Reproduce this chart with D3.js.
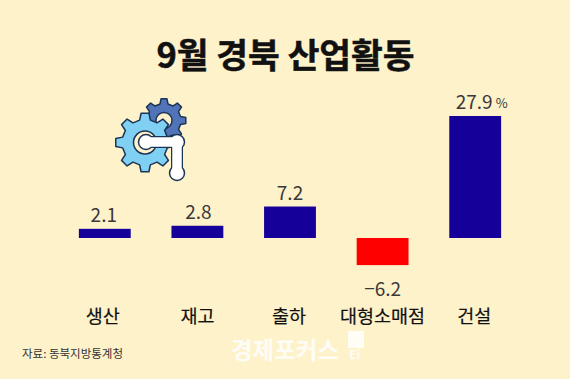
<!DOCTYPE html>
<html><head><meta charset="utf-8">
<style>html,body{margin:0;padding:0;background:#fef2cb}svg{display:block}text{font-family:"Noto Sans CJK KR","Noto Sans",sans-serif}</style>
<script src="https://cdnjs.cloudflare.com/ajax/libs/d3/7.8.5/d3.min.js"></script>
</head><body><svg id="c" width="570" height="379"></svg>
<script>
const categories=["생산","재고","출하","대형소매점","건설"];
const values=[2.1,2.8,7.2,-6.2,27.9];
const valueLabels=["2.1","2.8","7.2","−6.2","27.9"];
const titleText="9월 경북 산업활동";
const sourceText="자료: 동북지방통계청";
const watermark="경제포커스";

const svg=d3.select("#c");
const x=d3.scaleBand().domain(categories).range([58.5,521.5]).paddingInner(0.44).paddingOuter(0.22);
const y=d3.scaleLinear().domain([0,27.9]).range([238,116]);

svg.append("rect").attr("width",570).attr("height",379).attr("fill","#fef2cb");
svg.append("text").attr("x",285.5).attr("y",67.5).attr("text-anchor","middle").attr("font-size",34.5).attr("font-weight",700).attr("fill","#111").attr("stroke","#111").attr("stroke-width",0.5).text(titleText);

svg.selectAll("rect.bar").data(values).join("rect").attr("class","bar")
 .attr("x",(d,i)=>x(categories[i])).attr("width",x.bandwidth())
 .attr("y",d=>Math.min(y(d),y(0))).attr("height",d=>Math.abs(y(d)-y(0)))
 .attr("fill",d=>d<0?"#ff0000":"#15009a");

const valNudge=[-1,1,0,0,-1];
svg.selectAll("text.val").data(values).join("text").attr("class","val")
 .attr("x",(d,i)=>x(categories[i])+x.bandwidth()/2+valNudge[i])
 .attr("y",d=>d<0?y(d)+31:y(d)-7)
 .attr("text-anchor","middle").attr("font-size",19).attr("fill","#3b3838")
 .attr("font-family","'Open Sans','Noto Sans',sans-serif")
 .text((d,i)=>valueLabels[i]);
svg.append("text").attr("x",x("건설")+x.bandwidth()/2+20.5).attr("y",y(27.9)-8).attr("font-size",13).attr("fill","#3b3838").attr("font-family","'Open Sans',sans-serif").text("%");

const catNudge=[-2,0,-1,0,-1];
svg.selectAll("text.cat").data(categories).join("text").attr("class","cat")
 .attr("x",(d,i)=>x(d)+x.bandwidth()/2+catNudge[i]).attr("y",323)
 .attr("text-anchor","middle").attr("font-size",18.5).attr("fill","#111").attr("stroke","#111").attr("stroke-width",0.2).text(d=>d);

svg.append("text").attr("x",22).attr("y",358).attr("font-size",11.5).attr("fill","#333").text(sourceText);
svg.append("text").attr("x",231).attr("y",359).attr("font-size",23.5).attr("font-weight",700).attr("fill","#fff").attr("fill-opacity",0.85).text(watermark);
svg.append("rect").attr("x",348).attr("y",331).attr("width",16).attr("height",17).attr("fill","#fffdf4");
svg.append("text").attr("x",349).attr("y",359).attr("font-size",12).attr("font-weight",700).attr("fill","#fff").attr("fill-opacity",0.85).text("Ei");

function gear(cx,cy,rOut,rIn,n){
  const p=d3.path(),st=2*Math.PI/n;
  for(let i=0;i<n;i++){
    const a=i*st-Math.PI/2;
    const pts=[[rIn,a-st*.30],[rOut,a-st*.17],[rOut,a+st*.17],[rIn,a+st*.30]];
    pts.forEach((q,j)=>{const X=cx+q[0]*Math.cos(q[1]),Y=cy+q[0]*Math.sin(q[1]);(i===0&&j===0)?p.moveTo(X,Y):p.lineTo(X,Y);});
  }
  p.closePath();return p.toString();
}
const ink="#1c3557";
const g=svg.append("g").attr("stroke",ink).attr("stroke-width",1.5).attr("stroke-linejoin","round");
g.append("path").attr("d",gear(164,120.5,22,17,8)).attr("fill","#5173b8");
g.append("circle").attr("cx",164).attr("cy",120.5).attr("r",8).attr("fill","#fef2cb");
g.append("path").attr("d",gear(145,142.5,29.5,23,8)).attr("fill","#7fd0f2");
g.append("circle").attr("cx",145).attr("cy",142.5).attr("r",11.5).attr("fill","#fef2cb");
const link=[[146,142],[177,142],[177,173]];
const line=d3.line();
svg.append("path").attr("d",line(link)).attr("fill","none").attr("stroke",ink).attr("stroke-width",12).attr("stroke-linejoin","round");
link.forEach(q=>{svg.append("circle").attr("cx",q[0]).attr("cy",q[1]).attr("r",7.5).attr("fill","#fff").attr("stroke",ink).attr("stroke-width",1.5);});
svg.append("path").attr("d",line(link)).attr("fill","none").attr("stroke","#fff").attr("stroke-width",9.5).attr("stroke-linejoin","round");
</script></body></html>
